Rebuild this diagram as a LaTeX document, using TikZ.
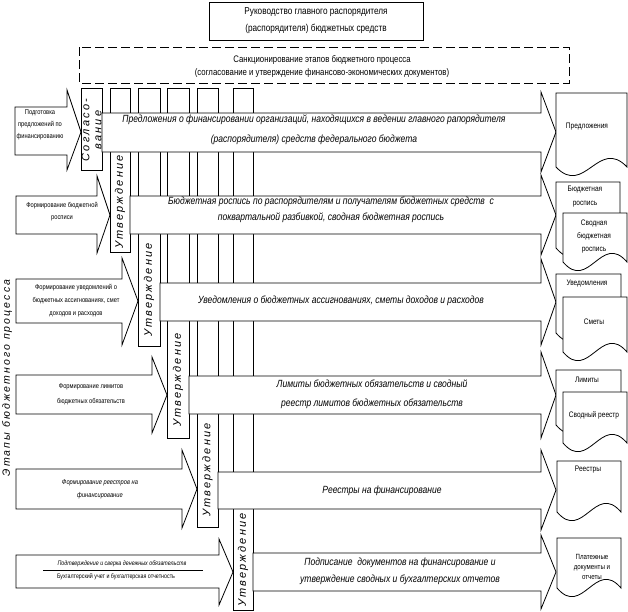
\documentclass[tikz,border=0pt]{standalone}
\usepackage{fontspec}
\setmainfont{Liberation Sans}
\newfontfamily\nar[FakeStretch=0.82]{Liberation Sans}
\newfontfamily\spc[LetterSpace=20]{Liberation Sans}
\newcommand\docsh[4]{%
  \draw[ln] (#1,#2) -- (#3,#2) -- (#3,#4) .. controls ({#1+0.6*(#3-#1)},{#4-30}) and ({#1+0.4*(#3-#1)},{#4+30}) .. (#1,#4) -- cycle;}
\begin{document}
\begin{tikzpicture}[x=1pt,y=-1pt,
  ln/.style={draw=black,line width=0.8pt,fill=white},
  toptxt/.style={font=\nar\fontsize{10}{17}\selectfont,align=center,inner sep=0},
  dashtxt/.style={font=\nar\fontsize{9.5}{13}\selectfont,align=center,inner sep=0},
  bandtxt/.style={font=\nar\itshape\fontsize{10.4}{20}\selectfont,align=center,inner sep=0},
  stagetxt/.style={font=\nar\fontsize{7}{12}\selectfont,align=center,inner sep=0},
  doctxt/.style={font=\nar\fontsize{8}{13}\selectfont,align=center,inner sep=0},
  vtxt/.style={font=\spc\itshape\fontsize{11}{12}\selectfont,rotate=90,align=center,inner sep=0}]
\useasboundingbox (0,0) rectangle (628,611);
% header boxes
\draw[ln] (209,2) rectangle (423,40);
\node[toptxt] (head) at (316,21) {Руководство главного распорядителя\\(распорядителя) бюджетных средств};
\draw[ln,dash pattern=on 9pt off 4pt] (79,47) rectangle (569,83);
\node[dashtxt] (sanc) at (322,66) {Санкционирование этапов бюджетного процесса\\(согласование и утверждение финансово-экономических документов)};
% columns
\draw[ln] (110,88) rectangle (130,252);
\draw[ln] (138,88) rectangle (160,346);
\draw[ln] (167,88) rectangle (189,438);
\draw[ln] (197,88) rectangle (218,527);
\draw[ln] (233,88) rectangle (253,610);
\draw[ln] (81,88) rectangle (102,170);
% bands
\draw[ln] (102,113) -- (541,113) -- (541,92) -- (556,132) -- (541,172) -- (541,152) -- (102,152) -- cycle;
\draw[ln] (130,196) -- (541,196) -- (541,175) -- (556,215) -- (541,255) -- (541,234) -- (130,234) -- cycle;
\draw[ln] (160,283) -- (541,283) -- (541,259) -- (556,302) -- (541,345) -- (541,321) -- (160,321) -- cycle;
\draw[ln] (189,376) -- (541,376) -- (541,352) -- (556,395) -- (541,438) -- (541,414) -- (189,414) -- cycle;
\draw[ln] (218,472) -- (541,472) -- (541,450) -- (556,490) -- (541,530) -- (541,509) -- (218,509) -- cycle;
\draw[ln] (253,553) -- (541,553) -- (541,535) -- (556,572) -- (541,609) -- (541,591) -- (253,591) -- cycle;
% stage arrows
\draw[ln] (15,107) -- (67,107) -- (67,90) -- (81,132) -- (67,170) -- (67,155) -- (15,155) -- cycle;
\draw[ln] (16,196) -- (97,196) -- (97,176) -- (110,215) -- (97,253) -- (97,234) -- (16,234) -- cycle;
\draw[ln] (16,279) -- (122,279) -- (122,258) -- (138,301) -- (122,345) -- (122,323) -- (16,323) -- cycle;
\draw[ln] (16,375) -- (152,375) -- (152,357) -- (167,395) -- (152,433) -- (152,414) -- (16,414) -- cycle;
\draw[ln] (16,469) -- (182,469) -- (182,450) -- (197,489) -- (182,528) -- (182,509) -- (16,509) -- cycle;
\draw[ln] (16,555) -- (219,555) -- (219,539) -- (233,572) -- (219,605) -- (219,588) -- (16,588) -- cycle;
% documents
\docsh{556}{93}{627}{167}
\docsh{556}{182}{620}{248}
\docsh{563}{213}{627}{262}
\docsh{556}{274}{621}{333}
\docsh{563}{297}{627}{352}
\docsh{556}{370}{621}{425}
\docsh{563}{392}{627}{443}
\docsh{557}{461}{621}{512}
\docsh{557}{538}{621}{588}
% vertical labels
\node[vtxt] (sogl) at (91.5,130) {Согласо-\\вание};
\node[vtxt] (u1) at (120,202) {Утверждение};
\node[vtxt] (u2) at (149,290) {Утверждение};
\node[vtxt] (u3) at (178,380) {Утверждение};
\node[vtxt] (u4) at (207.5,470) {Утверждение};
\node[vtxt] (u5) at (243,560) {Утверждение};
\node[font=\spc\itshape\fontsize{10.5}{12}\selectfont,rotate=90,inner sep=0] (stages) at (7,378) {Этапы бюджетного процесса};
% band texts
\node[bandtxt] (b1) at (314,130) {Предложения о финансировании организаций, находящихся в ведении главного рапорядителя\\(распорядителя) средств федерального бюджета};
\node[bandtxt,font=\nar\itshape\fontsize{10.4}{16}\selectfont] (b2) at (331,210) {Бюджетная роспись по распорядителям и получателям бюджетных средств~~с\\поквартальной разбивкой, сводная бюджетная роспись};
\node[bandtxt] (b3) at (341,301) {Уведомления о бюджетных ассигнованиях, сметы доходов и расходов};
\node[bandtxt,font=\nar\itshape\fontsize{10.4}{19}\selectfont] (b4) at (372,394) {Лимиты бюджетных обязательств и сводный\\реестр лимитов бюджетных обязательств};
\node[bandtxt] (b5) at (382,491) {Реестры на финансирование};
\node[bandtxt,font=\nar\itshape\fontsize{10.4}{17}\selectfont] (b6) at (400,571) {Подписание~~документов на финансирование и\\утверждение сводных и бухгалтерских отчетов};
% stage texts
\node[stagetxt] (s1) at (40,125) {Подготовка\\предложений по\\финансированию};
\node[stagetxt] (s2) at (62,212) {Формирование бюджетной\\росписи};
\node[stagetxt,font=\nar\fontsize{7}{13}\selectfont] (s3) at (76,301) {Формирование уведомлений о\\бюджетных ассигнованиях, смет\\доходов и расходов};
\node[stagetxt,font=\nar\fontsize{7}{15}\selectfont] (s4) at (91,394) {Формирование лимитов\\бюджетных обязательств};
\node[stagetxt,font=\nar\itshape\fontsize{7}{13}\selectfont] (s5) at (100,489) {Формирование реестров на\\финансирование};
\node[stagetxt,font=\nar\itshape\fontsize{6.5}{8}\selectfont] (s6a) at (122,564) {Подтверждение и сверка денежных обязательств};
\coordinate (r6l) at (43,570);
\coordinate (r6r) at (203,570);
\draw[line width=0.8pt] (r6l) -- (r6r);
\node[stagetxt,font=\nar\fontsize{6.5}{8}\selectfont] (s6b) at (116,577) {Бухгалтерский учет и бухгалтерская отчетность};
% document texts
\node[doctxt] (d1) at (587,127) {Предложения};
\node[doctxt,font=\nar\fontsize{8}{14}\selectfont] (d2a) at (585,197) {Бюджетная\\роспись};
\node[doctxt] (d2b) at (594,237) {Сводная\\бюджетная\\роспись};
\node[doctxt] (d3a) at (587,284) {Уведомления};
\node[doctxt] (d3b) at (594,322) {Сметы};
\node[doctxt] (d4a) at (587,380) {Лимиты};
\node[doctxt] (d4b) at (594,415) {Сводный реестр};
\node[doctxt] (d5) at (588,470) {Реестры};
\node[doctxt,font=\nar\fontsize{7.5}{10}\selectfont] (d6) at (592,567) {Платежные\\документы и\\отчеты};
\end{tikzpicture}
\end{document}
